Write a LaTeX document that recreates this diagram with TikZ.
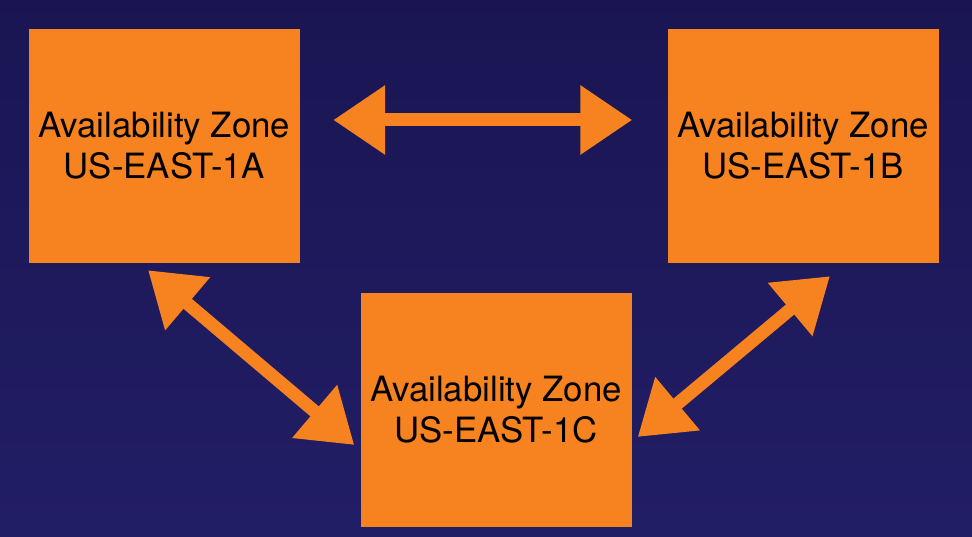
\documentclass[tikz,border=0pt]{standalone}
\usepackage{fontspec}
\setmainfont{TeX Gyre Heros}
\usepackage{xcolor}
\usetikzlibrary{arrows.meta,positioning,calc}

\definecolor{navy}{HTML}{1A1552}
\definecolor{navylow}{HTML}{221E66}
\definecolor{zone}{HTML}{F6831F}

\begin{document}
\begin{tikzpicture}[
    x=1pt,y=1pt,
    zonebox/.style={rectangle, fill=zone, minimum width=271pt, minimum height=234pt,
        inner sep=0pt, align=center, font=\fontsize{34.8}{41}\selectfont, text=black},
    link/.style={draw=zone, line width=13pt,
        {Triangle[length=52pt,width=66pt]}-{Triangle[length=52pt,width=66pt]}}
]
    \shade[top color=navy, bottom color=navylow] (0,0) rectangle (972,537);
    \useasboundingbox (0,0) rectangle (972,537);

    \node[zonebox] (A) at (164.5,391) {Availability Zone\\US-EAST-1A};
    \node[zonebox] (B) at (803,391) {Availability Zone\\US-EAST-1B};
    \node[zonebox] (C) at (496,127) {Availability Zone\\US-EAST-1C};

    % Links between zones
    \draw[link, shorten <=33pt, shorten >=35pt] ([yshift=26pt]A.east) -- ([yshift=26pt]B.west);
    \draw[link] ($(A.south)+(-16.5,-7)$) -- ($(C.west)+(-6,-35)$);
    \draw[link] ($(B.south)+(27,-13)$) -- ($(C.east)+(6,-27)$);
\end{tikzpicture}
\end{document}
